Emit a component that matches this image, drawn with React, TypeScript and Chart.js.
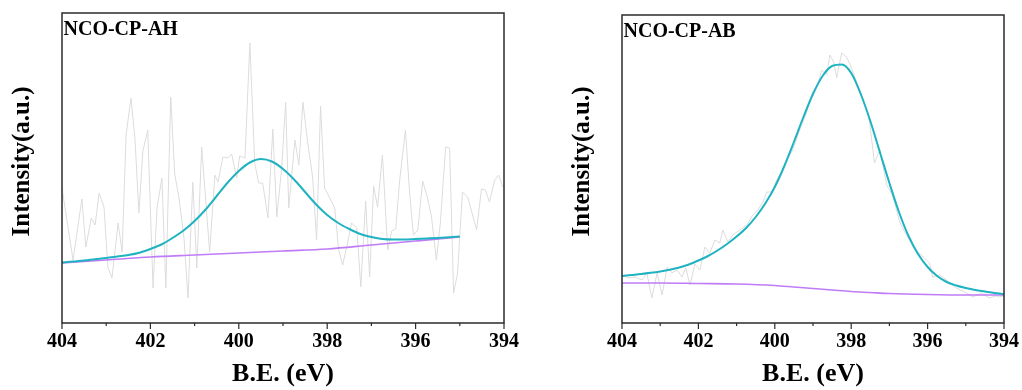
import React, { useEffect, useRef } from "react";
import { Chart, registerables } from "chart.js";

Chart.register(...registerables);

const FONT = "'Liberation Serif', 'Times New Roman', Times, serif";

// ---------- Panel 1: NCO-CP-AH ----------
const ahRawEV = [404.00,403.75,403.55,403.46,403.34,403.25,403.16,403.05,402.96,402.87,
  402.73,402.64,402.55,402.44,402.35,402.26,402.17,402.06,401.94,401.85,
  401.74,401.65,401.54,401.45,401.36,401.24,401.15,401.04,400.95,400.84,
  400.66,400.54,400.47,400.36,400.25,400.16,400.05,399.98,399.86,399.75,
  399.64,399.55,399.46,399.34,399.23,399.14,399.03,398.94,398.87,398.73,
  398.64,398.55,398.44,398.33,398.24,398.15,398.06,397.94,397.83,397.74,
  397.65,397.54,397.45,397.33,397.24,397.13,397.04,396.95,396.86,396.75,
  396.63,396.54,396.45,396.36,396.23,396.14,396.05,395.95,395.84,395.73,
  395.64,395.53,395.44,395.32,395.23,395.14,395.05,394.94,394.82,394.62,
  394.51,394.42,394.33,394.21,394.12,394.03];
const ahRawI = [135,63,124,76,105,98,130,116,55,45,
  100,71,188,225,185,110,172,193,35,115,
  145,35,226,149,127,85,25,141,55,176,
  71,148,141,166,165,169,145,167,165,280,
  160,140,140,105,194,106,155,221,115,183,
  158,221,180,146,83,217,135,125,115,73,
  58,80,100,95,36,122,46,137,116,168,
  73,92,94,143,193,133,88,93,142,125,
  106,63,100,176,175,30,50,131,126,93,
  134,133,121,143,148,136];
const ahFitEV = [404,403.75,403.5,403.25,403,402.75,402.5,402.25,402,401.75,401.5,401.25,401,
  400.75,400.5,400.25,400,399.75,399.5,399.25,399,398.75,398.5,398.25,398,397.75,397.5,
  397.25,397,396.75,396.5,396.25,396,395.75,395.5,395.25,395];
const ahFitI = [60.5,61.5,62.5,63.8,65,66.5,68,70.3,74,78.5,85,92.5,102,113.5,127,140.5,152,160.5,
  164,161.5,154,143.5,131,118.5,108,100,94,89,86,84,83.5,83.5,84,84.5,85,85.7,86.5];
const ahBaseEV = [404,403,402,401,400,399,398,397,396,395];
const ahBaseI = [60,63,66,68,70,72,74,78,82,86];

// ---------- Panel 2: NCO-CP-AB ----------
const abRawEV = [404.00,403.84,403.66,403.48,403.35,403.22,403.08,402.95,402.82,402.69,
  402.56,402.43,402.33,402.22,402.09,401.96,401.83,401.70,401.57,401.44,
  401.36,401.23,401.10,400.92,400.73,400.58,400.44,400.31,400.21,400.08,
  399.95,399.82,399.69,399.53,399.35,399.19,399.01,398.88,398.77,398.64,
  398.56,398.46,398.38,398.25,398.12,397.99,397.83,397.70,397.59,397.52,
  397.39,397.25,397.07,396.92,396.73,396.60,396.47,396.26,396.08,395.95,
  395.87,395.69,395.50,395.37,395.24,395.03,394.82,394.59,394.38,394.22,
  394.12,394.00];
const abRawI = [48,45,46,43,50,25,50,28,56,50,
  53,46,55,38,59,53,76,70,83,80,
  93,81,88,93,98,108,113,121,131,131,
  143,151,163,173,193,208,231,238,253,248,
  268,261,245,270,266,255,238,223,213,201,
  160,173,138,128,101,91,83,71,65,60,
  46,48,43,38,35,31,26,30,25,27,
  26,27];
const abFitEV = [404,403.75,403.5,403.25,403,402.75,402.5,402.25,402,401.75,401.5,401.25,401,
  400.75,400.5,400.25,400,399.75,399.5,399.25,399,398.75,398.5,398.25,398,397.75,397.5,
  397.25,397,396.75,396.5,396.25,396,395.75,395.5,395.25,395,394.75,394.5,394.25,394];
const abFitI = [47,48,49,50.2,51.6,53.3,55.5,58.5,62.5,67,72.5,79,86.5,95,106,119.5,136,157,181,206,
  229,247,257,258.5,250,229,202,171,140,111,87,69,56,47,41,37.5,35,33,31.5,30,29];
const abBaseEV = [404,403,402,401,400,399.5,399,398.5,398,397.5,397,396,395,394];
const abBaseI = [40,40,39.5,39,37.5,36,34.5,33,31.5,30.5,29.5,28.5,28,28];

const xTickValues = [394, 396, 398, 400, 402, 404];

const pts = (xs: number[], ys: number[]) => xs.map((x, i) => ({ x, y: ys[i] }));

const decorPlugin = {
  id: "decor",
  afterDatasetsDraw(chart: any, _args: any, opts: any) {
    const { ctx, chartArea: a, scales } = chart;
    const xs = scales.x;
    ctx.save();
    ctx.strokeStyle = "#2b2b2b";
    ctx.lineWidth = 1.5;
    ctx.strokeRect(a.left, a.top, a.right - a.left, a.bottom - a.top);
    ctx.lineWidth = 1.2;
    for (let v = 394; v <= 404; v++) {
      const px = xs.getPixelForValue(v);
      const len = v % 2 === 0 ? 6 : 3;
      ctx.beginPath();
      ctx.moveTo(px, a.bottom);
      ctx.lineTo(px, a.bottom + len);
      ctx.stroke();
    }
    ctx.fillStyle = "#000";
    ctx.font = `bold 20px ${FONT}`;
    ctx.textAlign = "left";
    ctx.textBaseline = "alphabetic";
    ctx.fillText(opts.label, a.left + 1.5, a.top + 21.5);

    ctx.save();
    ctx.translate(opts.yTitleX, opts.yTitleY);
    ctx.rotate(-Math.PI / 2);
    ctx.font = `bold 25px ${FONT}`;
    ctx.textAlign = "center";
    ctx.textBaseline = "middle";
    ctx.fillText("Intensity(a.u.)", 0, 0);
    ctx.restore();

    ctx.font = `bold 26px ${FONT}`;
    ctx.textAlign = "center";
    ctx.textBaseline = "alphabetic";
    ctx.fillText("B.E. (eV)", (a.left + a.right) / 2, opts.xTitleBaseline);
    ctx.restore();
  },
};

type Spec = {
  label: string;
  raw: { x: number; y: number }[];
  fit: { x: number; y: number }[];
  base: { x: number; y: number }[];
  yMax: number;
  left: number;
  width: number;
  padding: { left: number; right: number; top: number; bottom: number };
  yTitleX: number;
};

function Panel({ spec }: { spec: Spec }) {
  const ref = useRef<HTMLCanvasElement | null>(null);
  useEffect(() => {
    if (!ref.current) return;
    const chart = new Chart(ref.current, {
      type: "line",
      data: {
        datasets: [
          {
            data: spec.fit,
            borderColor: "#1fb3c2",
            borderWidth: 2,
            pointRadius: 0,
            cubicInterpolationMode: "monotone",
            fill: false,
          },
          {
            data: spec.base,
            borderColor: "#c07cf6",
            borderWidth: 1.6,
            pointRadius: 0,
            cubicInterpolationMode: "monotone",
            fill: false,
          },
          {
            data: spec.raw,
            borderColor: "#dcdcdc",
            borderWidth: 1,
            pointRadius: 0,
            tension: 0,
            fill: false,
          },
        ],
      },
      options: {
        animation: false,
        responsive: false,
        devicePixelRatio: 1,
        layout: { padding: spec.padding },
        plugins: {
          legend: { display: false },
          tooltip: { enabled: false },
          decor: {
            label: spec.label,
            yTitleX: spec.yTitleX,
            yTitleY: 161.5,
            xTitleBaseline: 381,
          },
        } as any,
        scales: {
          x: {
            type: "linear",
            reverse: true,
            min: 394,
            max: 404,
            grid: { display: false, drawTicks: false },
            border: { display: false },
            afterBuildTicks: (scale: any) => {
              scale.ticks = xTickValues.map((v) => ({ value: v }));
            },
            afterFit: (scale: any) => {
              scale.height = 67;
            },
            ticks: {
              color: "#000",
              padding: 7,
              maxRotation: 0,
              autoSkip: false,
              font: { family: FONT, size: 20, weight: "bold" },
            },
          },
          y: {
            display: false,
            min: 0,
            max: spec.yMax,
          },
        },
      },
      plugins: [decorPlugin],
    });
    return () => chart.destroy();
  }, [spec]);
  return (
    <canvas
      ref={ref}
      width={spec.width}
      height={390}
      style={{ position: "absolute", left: spec.left, top: 0, width: spec.width, height: 390 }}
    />
  );
}

const specs: Spec[] = [
  {
    label: "NCO-CP-AH",
    raw: pts(ahRawEV, ahRawI),
    fit: pts(ahFitEV, ahFitI),
    base: pts(ahBaseEV, ahBaseI),
    yMax: 310,
    left: 0,
    width: 540,
    padding: { left: 62, right: 36, top: 13, bottom: 0 },
    yTitleX: 23,
  },
  {
    label: "NCO-CP-AB",
    raw: pts(abRawEV, abRawI),
    fit: pts(abFitEV, abFitI),
    base: pts(abBaseEV, abBaseI),
    yMax: 308,
    left: 540,
    width: 482,
    padding: { left: 82, right: 18, top: 15, bottom: 0 },
    yTitleX: 43,
  },
];

export default function App() {
  return (
    <div style={{ position: "fixed", left: 0, top: 0, width: 1022, height: 390, background: "#fff" }}>
      {specs.map((s) => (
        <Panel key={s.label} spec={s} />
      ))}
    </div>
  );
}
